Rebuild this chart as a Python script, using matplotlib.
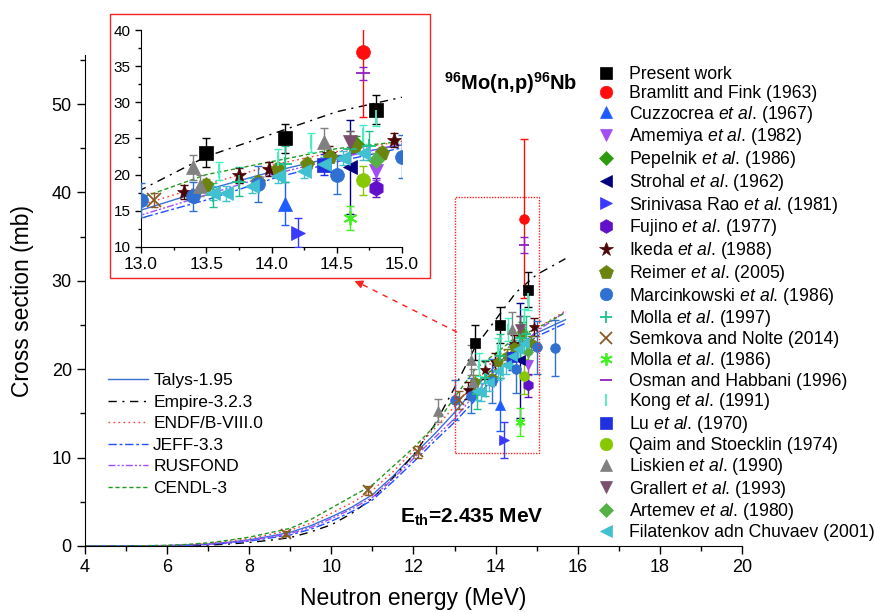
"""
96Mo(n,p)96Nb excitation function: present work vs. literature data
and evaluated libraries, with a zoomed inset around 14 MeV.
"""

import matplotlib
matplotlib.use("Agg")
import matplotlib.pyplot as plt
from matplotlib.lines import Line2D
from matplotlib.patches import Rectangle
from matplotlib.ticker import MultipleLocator, FormatStrFormatter

plt.rcParams['font.family'] = ['Liberation Sans', 'DejaVu Sans']
plt.rcParams['mathtext.fontset'] = 'custom'
plt.rcParams['mathtext.rm'] = 'Liberation Sans'
plt.rcParams['mathtext.it'] = 'Liberation Sans:italic'
plt.rcParams['mathtext.bf'] = 'Liberation Sans:bold'


# ── evaluated libraries ───────────────────────────

E_lib = [4, 5, 6, 6.5, 7, 7.5, 8, 8.5, 9, 9.5, 10, 10.5, 11, 11.5, 12,
         12.5, 13, 13.5, 14, 14.5, 15, 15.7]
talys = [0, 0, 0.04, 0.1, 0.22, 0.42, 0.7, 1.1, 1.55, 2.3, 3.3, 4.4, 5.8,
         7.9, 10.3, 12.6, 15.1, 17.9, 20.4, 22.5, 24.1, 25.6]
empire = [0, 0, 0.01, 0.04, 0.1, 0.22, 0.4, 0.65, 0.95, 1.6, 2.4, 3.7, 5.4,
          7.7, 10.3, 13.6, 17.9, 22.5, 25.6, 28.7, 30.7, 32.5]
endf = [0, 0, 0.06, 0.14, 0.3, 0.55, 0.85, 1.3, 1.8, 2.6, 3.7, 4.9, 6.3,
        8.4, 10.8, 13.2, 15.8, 18.6, 21.3, 23.2, 24.6, 26.6]
jeff = [0, 0, 0.03, 0.08, 0.17, 0.33, 0.55, 0.9, 1.25, 1.9, 2.8, 3.9, 5.2,
        7.3, 9.5, 11.8, 14.0, 16.5, 19.4, 21.8, 23.7, 25.2]
rusfond = [0, 0, 0.04, 0.09, 0.2, 0.38, 0.62, 1.0, 1.4, 2.1, 3.1, 4.2, 5.5,
           7.6, 9.9, 12.2, 14.4, 17.2, 20.0, 22.2, 24.3, 26.5]
cendl = [0, 0, 0.08, 0.18, 0.36, 0.65, 1.0, 1.5, 2.0, 3.0, 4.3, 5.6, 6.9,
         9.0, 11.1, 13.5, 16.8, 20.0, 21.8, 23.6, 24.6, 26.4]

lib_names = ["Talys-1.95", "Empire-3.2.3", "ENDF/B-VIII.0", "JEFF-3.3",
             "RUSFOND", "CENDL-3"]


# ── measured data: energy, cross section, error ───

present_E = [13.5, 14.1, 14.8]
present_y = [23.0, 25.0, 29.0]
present_err = [2.0, 2.0, 2.0]

bramlitt_E = [14.7]
bramlitt_y = [37.0]
bramlitt_err = [9.0]

cuzzocrea_E = [14.1]
cuzzocrea_y = [16.0]
cuzzocrea_err = [3.0]

amemiya_E = [14.8]
amemiya_y = [20.5]
amemiya_err = [1.2]

pepelnik_E = [14.65]
pepelnik_y = [24.3]
pepelnik_err = [1.0]

strohal_E = [14.6]
strohal_y = [21.0]
strohal_err = [6.5]

srinivasa_E = [14.2]
srinivasa_y = [12.0]
srinivasa_err = [2.0]

fujino_E = [14.8]
fujino_y = [18.2]
fujino_err = [1.3]

ikeda_E = [13.33, 13.75, 13.98, 14.44, 14.94]
ikeda_y = [17.6, 19.9, 20.8, 22.9, 24.8]
ikeda_err = [1.0, 1.0, 1.0, 1.0, 1.0]

reimer_E = [13.5, 13.9, 14.05, 14.27, 14.45, 14.64, 14.85]
reimer_y = [18.6, 19.0, 20.8, 21.5, 22.5, 24.0, 23.0]
reimer_err = [0.8, 0.8, 0.8, 0.8, 0.8, 0.8, 0.8]

marcin_E = [13.0, 13.4, 13.9, 14.5, 15.0, 15.45]
marcin_y = [16.5, 17.0, 18.7, 20.0, 22.5, 22.4]
marcin_err = [2.3, 2.0, 2.5, 2.7, 3.0, 3.2]

molla97_E = [13.55, 13.75, 14.1, 14.6, 14.75]
molla97_y = [17.2, 19.0, 21.5, 23.5, 24.0]
molla97_err = [1.7, 2.0, 2.5, 2.5, 2.0]

semkova_E = [8.9, 10.9, 12.1, 13.1]
semkova_y = [1.4, 6.3, 10.6, 16.5]
semkova_err = [0.3, 0.5, 0.7, 1.0]

molla86_E = [14.6]
molla86_y = [14.0]
molla86_err = [1.6]

osman_E = [14.7]
osman_y = [34.0]
osman_err = [0.9]

kong_E = [13.6, 14.05, 14.3, 14.7, 14.8]
kong_y = [20.5, 22.2, 24.5, 25.5, 28.0]
kong_err = [1.3, 1.3, 1.3, 1.3, 1.3]

lu_E = [14.4]
lu_y = [21.4]
lu_err = [1.5]

qaim_E = [14.7]
qaim_y = [19.2]
qaim_err = [2.0]

liskien_E = [12.6, 13.4, 13.45, 14.4]
liskien_y = [15.3, 21.0, 18.5, 24.5]
liskien_err = [1.3, 1.7, 1.5, 2.0]

grallert_E = [14.6]
grallert_y = [24.5]
grallert_err = [1.5]

artemev_E = [14.8]
artemev_y = [22.0]
artemev_err = [1.0]

filat_E = [13.55, 13.65, 13.85, 14.05, 14.25, 14.4, 14.55, 14.7]
filat_y = [17.5, 17.4, 18.5, 19.8, 20.5, 21.5, 22.3, 23.0]
filat_err = [1.0, 1.0, 1.0, 1.0, 1.0, 1.0, 1.0, 1.0]


# ── styles ────────────────────────────────────────

lib_styles = [
    dict(color='#3a6fd8', ls='-'),
    dict(color='black', ls=(0, (6, 4, 1.5, 4))),
    dict(color='#ff3b3b', ls=(0, (1.2, 2.4))),
    dict(color='#1f4fff', ls=(0, (6, 2, 2, 2))),
    dict(color='#a04cff', ls=(0, (5, 1.5, 1.5, 1.5, 1.5, 1.5))),
    dict(color='#1f9a1f', ls=(0, (3, 2))),
]

# (label, E, y, err, marker, color)
datasets = [
    ("Present work", present_E, present_y, present_err, 's', 'black'),
    ("Bramlitt and Fink (1963)", bramlitt_E, bramlitt_y, bramlitt_err, 'o', '#ff0d0d'),
    (r"Cuzzocrea $\it{et\ al}$. (1967)", cuzzocrea_E, cuzzocrea_y, cuzzocrea_err, '^', '#1f5cff'),
    (r"Amemiya $\it{et\ al}$. (1982)", amemiya_E, amemiya_y, amemiya_err, 'v', '#a24ef2'),
    (r"Pepelnik $\it{et\ al}$. (1986)", pepelnik_E, pepelnik_y, pepelnik_err, 'D', '#2e9a0e'),
    (r"Strohal $\it{et\ al}$. (1962)", strohal_E, strohal_y, strohal_err, '<', '#000080'),
    (r"Srinivasa Rao $\it{et\ al}$. (1981)", srinivasa_E, srinivasa_y, srinivasa_err, '>', '#3a3aff'),
    (r"Fujino $\it{et\ al}$. (1977)", fujino_E, fujino_y, fujino_err, 'h', '#6010c8'),
    (r"Ikeda $\it{et\ al}$. (1988)", ikeda_E, ikeda_y, ikeda_err, '*', '#4a0606'),
    (r"Reimer $\it{et\ al}$. (2005)", reimer_E, reimer_y, reimer_err, 'p', '#6b8410'),
    (r"Marcinkowski $\it{et\ al}$. (1986)", marcin_E, marcin_y, marcin_err, 'o', '#3070d0'),
    (r"Molla $\it{et\ al}$. (1997)", molla97_E, molla97_y, molla97_err, '+', '#20c08a'),
    ("Semkova and Nolte (2014)", semkova_E, semkova_y, semkova_err, 'x', '#8b5a22'),
    (r"Molla $\it{et\ al}$. (1986)", molla86_E, molla86_y, molla86_err, (6, 2, 0), '#40f020'),
    ("Osman and Habbani (1996)", osman_E, osman_y, osman_err, '_', '#9020c0'),
    (r"Kong $\it{et\ al}$. (1991)", kong_E, kong_y, kong_err, '|', '#40f0c0'),
    (r"Lu $\it{et\ al}$. (1970)", lu_E, lu_y, lu_err, 's', '#2030e0'),
    ("Qaim and Stoecklin (1974)", qaim_E, qaim_y, qaim_err, 'o', '#88c800'),
    (r"Liskien $\it{et\ al}$. (1990)", liskien_E, liskien_y, liskien_err, '^', '#808080'),
    (r"Grallert $\it{et\ al}$. (1993)", grallert_E, grallert_y, grallert_err, 'v', '#7a4f6e'),
    (r"Artemev $\it{et\ al}$. (1980)", artemev_E, artemev_y, artemev_err, 'D', '#55b045'),
    ("Filatenkov adn Chuvaev (2001)", filat_E, filat_y, filat_err, '<', '#40c0d0'),
]

LINE_MARKERS = ('+', 'x', '|', '_', (6, 2, 0))


def marker_size(marker, base):
    if marker in ('D',):
        return base * 0.8
    if marker in ('*', 'h', 'p'):
        return base * 1.1
    return base


def draw_all(ax, base_ms, capsize, lw_lib=1.0):
    for y_, st in zip([talys, empire, endf, jeff, rusfond, cendl], lib_styles):
        ax.plot(E_lib, y_, color=st['color'], ls=st['ls'], lw=lw_lib, zorder=2)
    for label, E, y, err, m, c in datasets:
        mew = 1.3 if m in LINE_MARKERS else 0.5
        ax.errorbar(E, y, yerr=err, fmt='none', ecolor=c, elinewidth=1.0,
                    capsize=capsize, capthick=1.0, zorder=3)
        ax.plot(E, y, ls='none', marker=m, ms=marker_size(m, base_ms),
                color=c, mec=c, mew=mew, zorder=4)


def style_axes(ax, major_len, minor_len):
    ax.spines['top'].set_visible(False)
    ax.spines['right'].set_visible(False)
    ax.tick_params(which='both', direction='out', width=1.0)
    ax.tick_params(which='major', length=major_len)
    ax.tick_params(which='minor', length=minor_len)


# ── figure ────────────────────────────────────────

fig = plt.figure(figsize=(8.74, 6.12), dpi=100)
ax = fig.add_axes([85 / 874, 1 - 546 / 612, 657 / 874, 490.6 / 612])

draw_all(ax, base_ms=7, capsize=3)
ax.set_xlim(4, 20)
ax.set_ylim(0, 55.5)
ax.xaxis.set_major_locator(MultipleLocator(2))
ax.xaxis.set_minor_locator(MultipleLocator(1))
ax.yaxis.set_major_locator(MultipleLocator(10))
ax.yaxis.set_minor_locator(MultipleLocator(5))
style_axes(ax, 6, 3.5)
ax.tick_params(labelsize=13)
ax.set_xlabel("Neutron energy (MeV)", fontsize=16.5, labelpad=8)
ax.set_ylabel("Cross section (mb)", fontsize=16.5, labelpad=13)

ax.text(12.75, 52.4, r"$\mathbf{^{96}Mo(n{,}p)^{96}Nb}$", fontsize=14.5,
        ha='left', va='center')
ax.text(11.67, 3.2, r"$\mathbf{E_{th}}$=2.435 MeV", fontsize=15,
        fontweight='bold', ha='left', va='center')

# zoom box + arrow to the inset
ax.add_patch(Rectangle((13.0, 10.5), 2.05, 29.0, fill=False, ec='#ff2020',
                       lw=1.0, ls=(0, (1, 1)), zorder=5))
ax.plot([13.06, 10.7], [24.2, 29.7], color='#ff2020', lw=1.0,
        ls=(0, (4, 4)), zorder=5)
ax.annotate('', xy=(10.5, 30.1), xytext=(10.8, 29.5),
            arrowprops=dict(arrowstyle='-|>', color='#ff2020', lw=1.0,
                            mutation_scale=12), zorder=5)

lib_handles = [Line2D([], [], color=st['color'], ls=st['ls'], lw=1.0)
               for st in lib_styles]
ax.legend(lib_handles, lib_names, loc='upper left',
          bbox_to_anchor=(108 / 874, 1 - 373 / 612),
          bbox_transform=fig.transFigure, frameon=False, fontsize=12.5,
          handlelength=2.3, handletextpad=0.3, labelspacing=0.37,
          borderpad=0, borderaxespad=0)

pt_handles = []
for label, E, y, err, m, c in datasets:
    mew = 1.3 if m in LINE_MARKERS else 0.5
    pt_handles.append(Line2D([], [], ls='none', marker=m, color=c, mec=c,
                             mew=mew, ms=marker_size(m, 9)))
fig.legend(pt_handles, [d[0] for d in datasets], loc='upper left',
           bbox_to_anchor=(597 / 874, 1 - 66 / 612), frameon=False,
           fontsize=12.7, handlelength=1.0, handletextpad=0.8,
           labelspacing=0.10, borderpad=0, borderaxespad=0)

# ── inset ─────────────────────────────────────────

fig.patches.append(Rectangle((110 / 874, 1 - 278 / 612), 320 / 874,
                             264 / 612, transform=fig.transFigure,
                             fill=False, ec='#ff2020', lw=1.0, zorder=0))

axin = fig.add_axes([141 / 874, 1 - 247 / 612, 261 / 874, 217 / 612])
draw_all(axin, base_ms=10, capsize=3)
axin.set_xlim(13, 15)
axin.set_ylim(10, 40)
axin.xaxis.set_major_locator(MultipleLocator(0.5))
axin.xaxis.set_minor_locator(MultipleLocator(0.25))
axin.xaxis.set_major_formatter(FormatStrFormatter('%.1f'))
axin.yaxis.set_major_locator(MultipleLocator(5))
axin.yaxis.set_minor_locator(MultipleLocator(2.5))
style_axes(axin, 4, 2.5)
axin.tick_params(axis='x', labelsize=12.5)
axin.tick_params(axis='y', labelsize=11)

fig.savefig("out.png", dpi=100)
